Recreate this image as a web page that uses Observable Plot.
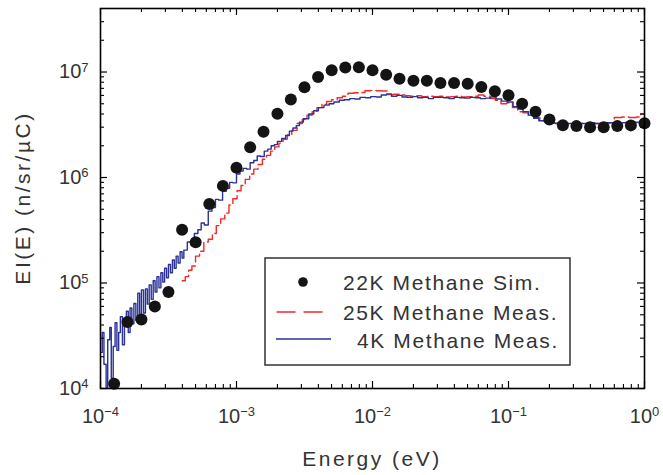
<!DOCTYPE html>
<html><head><meta charset="utf-8">
<script src="https://cdn.jsdelivr.net/npm/d3@7"></script>
<script src="https://cdn.jsdelivr.net/npm/@observablehq/plot@0.6"></script>
<style>
body{margin:0;background:#fff;}
#chart{width:663px;height:475px;}
</style></head><body><div id="chart"></div>
<script>
// ---- Data ----
const simEnergy = [1.26e-4,1.58e-4,2.00e-4,2.51e-4,3.16e-4,3.98e-4,5.01e-4,6.31e-4,7.94e-4,
  1.00e-3,1.26e-3,1.58e-3,2.00e-3,2.51e-3,3.16e-3,3.98e-3,5.01e-3,6.31e-3,7.94e-3,
  1.00e-2,1.26e-2,1.58e-2,2.00e-2,2.51e-2,3.16e-2,3.98e-2,5.01e-2,6.31e-2,7.94e-2,
  0.100,0.126,0.158,0.200,0.251,0.316,0.398,0.501,0.631,0.794,1.00];
const simYield = [1.11e4,4.26e4,4.52e4,6.0e4,8.2e4,3.2e5,2.44e5,5.6e5,8.33e5,
  1.24e6,1.94e6,2.72e6,4.02e6,5.48e6,7.16e6,8.97e6,1.04e7,1.105e7,1.11e7,
  1.04e7,9.44e6,8.65e6,8.28e6,8.28e6,7.88e6,7.88e6,7.76e6,7.22e6,6.56e6,
  6.02e6,4.99e6,4.2e6,3.55e6,3.13e6,3.07e6,3.0e6,2.99e6,3.07e6,3.12e6,3.26e6];

const meas4KEnergy = [
  1.00e-4,1.03e-4,1.06e-4,1.10e-4,1.13e-4,1.17e-4,1.20e-4,1.24e-4,1.28e-4,1.32e-4,1.36e-4,1.40e-4,
  1.45e-4,1.50e-4,1.55e-4,1.60e-4,1.65e-4,1.70e-4,1.76e-4,1.82e-4,1.88e-4,1.94e-4,2.00e-4,2.07e-4,
  2.14e-4,2.21e-4,2.28e-4,2.36e-4,2.44e-4,2.52e-4,2.60e-4,2.69e-4,2.78e-4,2.87e-4,2.96e-4,3.06e-4,
  3.16e-4,3.27e-4,3.38e-4,3.49e-4,3.60e-4,3.72e-4,3.85e-4,3.98e-4,
  4.10e-4,4.35e-4,4.60e-4,4.90e-4,5.20e-4,5.50e-4,5.80e-4,6.20e-4,6.60e-4,7.00e-4,7.40e-4,7.90e-4,
  8.40e-4,8.90e-4,9.40e-4,1.00e-3,1.06e-3,1.12e-3,1.19e-3,1.26e-3,1.34e-3,1.42e-3,1.50e-3,1.60e-3,
  1.70e-3,1.80e-3,1.90e-3,2.00e-3,2.15e-3,2.30e-3,2.45e-3,2.60e-3,2.75e-3,2.90e-3,
  3.1e-3,3.4e-3,3.7e-3,4.0e-3,4.4e-3,4.8e-3,5.2e-3,5.7e-3,6.2e-3,6.8e-3,7.4e-3,8.1e-3,8.9e-3,9.7e-3,
  1.06e-2,1.16e-2,1.27e-2,1.38e-2,1.51e-2,1.65e-2,1.80e-2,1.97e-2,2.15e-2,2.35e-2,2.57e-2,2.80e-2,
  3.06e-2,3.34e-2,3.65e-2,3.99e-2,4.36e-2,4.76e-2,5.20e-2,5.68e-2,6.20e-2,6.80e-2,7.40e-2,8.10e-2,
  8.90e-2,9.80e-2,0.108,0.118,0.128,0.140,0.153,0.167,0.183,0.200,0.22,0.24,0.27,0.30,0.34,0.38,
  0.43,0.48,0.54,0.61,0.69,0.78,0.88,1.00];
const meas4KYield = [
  2.2e4,3.4e4,1.7e4,1.0e4,2.9e4,3.8e4,1.25e4,2.5e4,4.2e4,2.3e4,3.4e4,4.8e4,
  2.6e4,4.0e4,5.4e4,3.4e4,5.8e4,4.1e4,6.4e4,4.4e4,8.0e4,4.6e4,8.6e4,5.2e4,
  8.8e4,6.3e4,9.6e4,7.0e4,1.05e5,8.2e4,1.15e5,9.0e4,1.25e5,1.02e5,1.38e5,1.12e5,
  1.50e5,1.25e5,1.65e5,1.38e5,1.80e5,1.55e5,1.98e5,1.72e5,
  2.05e5,2.45e5,2.30e5,2.95e5,3.20e5,3.70e5,3.55e5,4.80e5,5.20e5,6.20e5,6.10e5,7.40e5,
  7.90e5,9.00e5,8.90e5,1.08e6,1.15e6,1.22e6,1.20e6,1.38e6,1.45e6,1.60e6,1.58e6,1.78e6,
  1.86e6,2.00e6,2.05e6,2.20e6,2.35e6,2.50e6,2.75e6,2.95e6,3.10e6,3.35e6,
  3.6e6,4.0e6,4.3e6,4.6e6,4.85e6,5.0e6,5.2e6,5.4e6,5.45e6,5.6e6,5.55e6,5.75e6,5.7e6,5.85e6,
  5.8e6,6.05e6,6.2e6,5.9e6,6.0e6,5.8e6,5.75e6,5.85e6,5.7e6,5.75e6,5.6e6,5.75e6,
  5.75e6,5.7e6,5.6e6,5.75e6,5.7e6,5.65e6,5.75e6,5.7e6,5.6e6,5.65e6,5.8e6,5.55e6,
  5.3e6,5.2e6,4.7e6,4.45e6,4.2e6,3.9e6,3.65e6,3.45e6,3.4e6,3.3e6,3.25e6,3.2e6,3.25e6,3.2e6,3.25e6,3.3e6,
  3.25e6,3.3e6,3.3e6,3.28e6,3.3e6,3.32e6,3.35e6,3.4e6];

const meas25KEnergy = [
  3.99e-4,4.2e-4,4.45e-4,4.7e-4,5.0e-4,5.35e-4,5.75e-4,6.2e-4,6.65e-4,7.1e-4,7.65e-4,8.2e-4,8.8e-4,9.4e-4,
  1.01e-3,1.08e-3,1.16e-3,1.25e-3,1.34e-3,1.44e-3,1.55e-3,1.66e-3,1.78e-3,1.91e-3,2.05e-3,2.2e-3,2.36e-3,
  2.55e-3,2.79e-3,3.05e-3,3.3e-3,3.6e-3,3.9e-3,4.25e-3,4.6e-3,5.0e-3,5.5e-3,6.0e-3,6.6e-3,7.3e-3,8.0e-3,
  8.8e-3,9.7e-3,1.07e-2,1.18e-2,1.3e-2,1.43e-2,1.57e-2,1.73e-2,1.9e-2,2.1e-2,2.3e-2,2.55e-2,2.8e-2,3.1e-2,
  3.4e-2,3.75e-2,4.1e-2,4.5e-2,5.0e-2,5.5e-2,6.0e-2,6.6e-2,7.3e-2,8.0e-2,8.8e-2,9.7e-2,0.107,0.117,0.128,
  0.14,0.155,0.17,0.19,0.21,0.23,0.26,0.29,0.33,0.37,0.42,0.48,0.55,0.6,0.68,0.77,0.87,0.94,1.0];
const meas25KYield = [
  1.05e5,1.15e5,1.32e5,1.45e5,1.8e5,2.0e5,2.45e5,2.6e5,2.95e5,3.5e5,4.05e5,4.6e5,5.5e5,6.3e5,
  7.5e5,8.4e5,9.6e5,1.08e6,1.2e6,1.33e6,1.49e6,1.62e6,1.78e6,1.95e6,2.12e6,2.3e6,2.53e6,
  2.8e6,3.25e6,3.55e6,3.9e6,4.2e6,4.6e6,4.95e6,5.25e6,5.45e6,5.7e6,5.9e6,6.3e6,6.35e6,6.4e6,
  6.65e6,6.7e6,6.65e6,6.6e6,6.1e6,6.15e6,6.05e6,5.95e6,5.9e6,5.95e6,5.85e6,5.9e6,5.85e6,5.9e6,
  5.8e6,5.85e6,5.9e6,5.8e6,5.85e6,5.9e6,6.05e6,5.9e6,5.6e6,5.4e6,5.0e6,5.1e6,4.6e6,4.2e6,4.1e6,
  3.9e6,3.7e6,3.45e6,3.4e6,3.3e6,3.25e6,3.25e6,3.2e6,3.25e6,3.25e6,3.25e6,3.25e6,3.3e6,3.7e6,3.75e6,3.7e6,3.75e6,4.0e6,4.0e6];

const seriesNames = ["22K Methane Sim.", "25K Methane Meas.", "4K Methane Meas."];
const xTickValues = [1e-4, 1e-3, 1e-2, 1e-1, 1];
const xTickExponents = ["\u22124", "\u22123", "\u22122", "\u22121", "0"];
const yTickValues = [1e4, 1e5, 1e6, 1e7];
const yTickExponents = ["4", "5", "6", "7"];
const minorMultipliers = [2, 3, 4, 5, 6, 7, 8, 9];
const xDomain = [1e-4, 1];
const yDomain = [1e4, 4e7];
const xLabel = "Energy (eV)";
const yLabel = "EI(E) (n/sr/\u00b5C)";

// ---- Build tables ----
const sim = simEnergy.map((e, i) => ({e, v: simYield[i]}));
const m4 = meas4KEnergy.map((e, i) => ({e, v: meas4KYield[i]}));
const m25 = meas25KEnergy.map((e, i) => ({e, v: meas25KYield[i]}));
const xMinor = xTickValues.slice(0, -1).flatMap(d => minorMultipliers.map(m => d * m));
const yMinor = yTickValues.flatMap(d => minorMultipliers.map(m => d * m)).filter(d => d < yDomain[1]);

const W = 663, H = 475, mL = 100, mR = 19, mT = 8, mB = 87;
const fw = W - mL - mR, fh = H - mT - mB;
const BLUE = "#2a3296", RED = "#f22a2a", DOT = "#141414", TXT = "#333";
const FONT = "'Liberation Sans', Arial, Helvetica, sans-serif";

const chart = Plot.plot({
  width: W, height: H,
  marginLeft: mL, marginRight: mR, marginTop: mT, marginBottom: mB,
  style: {fontFamily: FONT, fontSize: "20px", color: TXT, background: "#fff"},
  x: {type: "log", domain: xDomain, axis: null, label: null},
  y: {type: "log", domain: yDomain, axis: null, label: null},
  marks: [
    Plot.line(m25, {x: "e", y: "v", curve: "step-after", stroke: RED, strokeWidth: 1.4, strokeDasharray: "12,4", clip: true}),
    Plot.line(m4, {x: "e", y: "v", curve: "step-after", stroke: BLUE, strokeWidth: 1.4, clip: true}),
    Plot.dot(sim, {x: "e", y: "v", r: 6, fill: DOT, stroke: "none"}),
    // inward ticks on all four sides
    Plot.tickX(xTickValues, {x: d => d, insetTop: fh - 7, stroke: "#000", strokeWidth: 1.2}),
    Plot.tickX(xTickValues, {x: d => d, insetBottom: fh - 7, stroke: "#000", strokeWidth: 1.2}),
    Plot.tickX(xMinor, {x: d => d, insetTop: fh - 4, stroke: "#000", strokeWidth: 1.1}),
    Plot.tickX(xMinor, {x: d => d, insetBottom: fh - 4, stroke: "#000", strokeWidth: 1.1}),
    Plot.tickY(yTickValues, {y: d => d, insetRight: fw - 7, stroke: "#000", strokeWidth: 1.2}),
    Plot.tickY(yTickValues, {y: d => d, insetLeft: fw - 7, stroke: "#000", strokeWidth: 1.2}),
    Plot.tickY(yMinor, {y: d => d, insetRight: fw - 4, stroke: "#000", strokeWidth: 1.1}),
    Plot.tickY(yMinor, {y: d => d, insetLeft: fw - 4, stroke: "#000", strokeWidth: 1.1}),
    Plot.axisX(xTickValues, {anchor: "bottom", label: null, tickSize: 0, tickPadding: 20, fill: TXT,
      tickFormat: d => "10^" + xTickExponents[xTickValues.indexOf(d)]}),
    Plot.axisY(yTickValues, {anchor: "left", label: null, tickSize: 0, tickPadding: 12, fill: TXT,
      tickFormat: d => "10^" + yTickExponents[yTickValues.indexOf(d)]}),
    Plot.frame({stroke: "#000", strokeWidth: 1.6})
  ]
});

const svg = d3.select(chart);
// superscript exponents in tick labels
svg.selectAll('g[aria-label="x-axis tick label"] text, g[aria-label="y-axis tick label"] text').each(function () {
  const t = this.textContent;
  if (!t.includes("^")) return;
  const [base, exp] = t.split("^");
  const s = d3.select(this);
  s.text(base);
  s.append("tspan").attr("dy", "-0.5em").attr("font-size", "13px").text(exp);
});

// axis titles
const titles = svg.append("g").attr("font-family", FONT).attr("font-size", 21).attr("fill", TXT)
  .attr("letter-spacing", "2.5px").attr("text-anchor", "middle");
titles.append("text").attr("x", mL + fw / 2).attr("y", 466).text(xLabel);
titles.append("text").attr("transform", `translate(30,${mT + fh / 2}) rotate(-90)`).text(yLabel);

// legend
const lg = svg.append("g").attr("font-family", FONT).attr("font-size", 21).attr("fill", TXT)
  .attr("letter-spacing", "1.6px").attr("text-anchor", "start");
lg.append("rect").attr("x", 265).attr("y", 258).attr("width", 305).attr("height", 107)
  .attr("fill", "#fff").attr("stroke", "#333").attr("stroke-width", 1.5);
lg.append("circle").attr("cx", 303).attr("cy", 282).attr("r", 4.8).attr("fill", DOT);
lg.append("line").attr("x1", 276.5).attr("x2", 324).attr("y1", 312).attr("y2", 312)
  .attr("stroke", RED).attr("stroke-width", 1.4).attr("stroke-dasharray", "19,8");
lg.append("line").attr("x1", 276).attr("x2", 331).attr("y1", 339).attr("y2", 339)
  .attr("stroke", BLUE).attr("stroke-width", 1.4);
lg.append("text").attr("x", 343).attr("y", 290).text(seriesNames[0]);
lg.append("text").attr("x", 343).attr("y", 320).text(seriesNames[1]);
lg.append("text").attr("x", 357).attr("y", 348).text(seriesNames[2]);

document.getElementById("chart").appendChild(chart);
</script>
</body></html>
